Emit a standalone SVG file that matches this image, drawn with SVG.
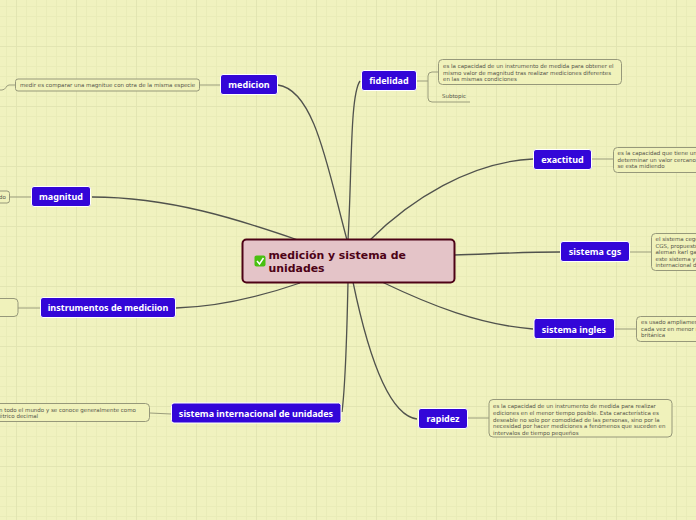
<svg xmlns="http://www.w3.org/2000/svg" width="696" height="520" viewBox="0 0 696 520">
<style>
.n rect{fill:#3306d8;stroke:#fff;stroke-width:1}
.n text{font:700 9px "Noto Sans",sans-serif;fill:#fff;text-anchor:middle}
.c path{fill:none;stroke:#50524d;stroke-width:1.3}
.s path,.s line{fill:none;stroke:#9a9c7c;stroke-width:1}
.t rect{fill:#f0f2bb;stroke:#96987a;stroke-width:1}
.t text{font:5.5px "DejaVu Sans",sans-serif;fill:#55554a}
</style>
<defs>
<pattern id="g" x="6" y="6" width="10" height="10" patternUnits="userSpaceOnUse"><path d="M.5 0V10M0 .5H10" stroke="#e9ecb8" stroke-width="1" fill="none"/></pattern>
<pattern id="h" x="16" y="46" width="60" height="60" patternUnits="userSpaceOnUse"><path d="M.5 0V60M0 .5H60" stroke="#e2e5b2" stroke-width="1" fill="none"/></pattern>
</defs>
<rect width="696" height="520" fill="#f0f2bf"/>
<rect width="696" height="520" fill="url(#g)"/>
<rect width="696" height="520" fill="url(#h)"/>
<g id="connectors" class="c">
<path d="M278 85C315 90 328 170 347 240"/>
<path d="M360 81C350 95 352 170 348 240"/>
<path d="M533 159C470 162 410 200 370 240"/>
<path d="M560 252C520 252 490 254 454 255"/>
<path d="M533 329C480 325 430 305 382 282"/>
<path d="M417 419C385 415 365 340 353 282"/>
<path d="M342 412C346 380 347 330 348 282"/>
<path d="M176 308C220 307 265 295 300 283"/>
<path d="M92 197C170 197 240 220 298 240"/>
</g>
<g class="s">
<line x1="200" y1="85" x2="220" y2="85"/>
<path d="M16 85H9C6 85 6 90 2 90H-2"/>
<line x1="10" y1="197" x2="31" y2="197"/>
<line x1="18" y1="308" x2="40" y2="308"/>
<line x1="150" y1="413" x2="171" y2="414"/>
<path d="M417 81H428M438 72H432Q428 72 428 76V98Q428 102 432 102H470"/>
<line x1="592" y1="159" x2="613" y2="159"/>
<line x1="630" y1="252" x2="651" y2="252"/>
<line x1="615" y1="329" x2="636" y2="329"/>
<line x1="468" y1="418" x2="489" y2="418"/>
</g>
<g id="central">
<rect x="242.500" y="239.500" width="212" height="43" rx="4" fill="#e4c4c8" stroke="#4d0216" stroke-width="2"/>
<rect x="254.500" y="255.500" width="11" height="11" rx="2" fill="#48c010"/>
<path d="M257 261l2.500 3 4-6" fill="none" stroke="#fff" stroke-width="1.500"/>
<text font-family="DejaVu Sans, sans-serif" font-weight="700" font-size="10.900" fill="#4d0216"><tspan x="268.500" y="259">medición y sistema de</tspan><tspan x="268.500" y="272">unidades</tspan></text>
</g>
<g id="medicion" class="n"><rect x="220.500" y="74.500" width="57" height="20" rx="2.500"/><text x="249" y="88">medicion</text></g>
<g id="fidelidad" class="n"><rect x="361.500" y="70.500" width="55" height="20" rx="2.500"/><text x="389" y="84">fidelidad</text></g>
<g id="exactitud" class="n"><rect x="533.500" y="149.500" width="58" height="20" rx="2.500"/><text x="562.500" y="163">exactitud</text></g>
<g id="sistema-cgs" class="n"><rect x="560.500" y="241.500" width="69" height="20" rx="2.500"/><text x="595" y="255">sistema cgs</text></g>
<g id="sistema-ingles" class="n"><rect x="534" y="318.500" width="80.500" height="20" rx="2.500"/><text x="574" y="332.500">sistema ingles</text></g>
<g id="rapidez" class="n"><rect x="418.500" y="408.500" width="49" height="20" rx="2.500"/><text x="443" y="422">rapidez</text></g>
<g id="sistema-internacional" class="n"><rect x="171.500" y="403" width="169.500" height="20" rx="2.500"/><text x="256" y="416.500">sistema internacional de unidades</text></g>
<g id="instrumentos" class="n"><rect x="40.500" y="297.500" width="135" height="20" rx="2.500"/><text x="108" y="311">instrumentos de mediciion</text></g>
<g id="magnitud" class="n"><rect x="31.500" y="186.500" width="59" height="20" rx="2.500"/><text x="61" y="200">magnitud</text></g>
<g id="t-fidelidad" class="t"><rect x="438.500" y="59.500" width="183" height="25" rx="4"/><text><tspan x="443" y="68">es la capacidad de un instrumento de medida para obtener el</tspan><tspan x="443" y="74.500">mismo valor de magnitud tras realizar mediciones diferentes</tspan><tspan x="443" y="81">en las mismas condiciones</tspan></text></g>
<g id="t-subtopic" class="t"><text x="442" y="98">Subtopic</text></g>
<g id="t-exactitud" class="t"><rect x="613.500" y="147.500" width="100" height="25" rx="4"/><text><tspan x="617.500" y="155">es la capacidad que tiene un</tspan><tspan x="617.500" y="161.500">determinar un valor cercano</tspan><tspan x="617.500" y="168">se esta midiendo</tspan></text></g>
<g id="t-cgs" class="t"><rect x="651.500" y="233.500" width="70" height="37" rx="4"/><text><tspan x="655.500" y="241">el sistema cege</tspan><tspan x="655.500" y="247.500">CGS, propuesto</tspan><tspan x="655.500" y="254">aleman karl ga</tspan><tspan x="655.500" y="260.500">este sistema y</tspan><tspan x="655.500" y="267">internacional d</tspan></text></g>
<g id="t-ingles" class="t"><rect x="636.500" y="316.500" width="90" height="25" rx="4"/><text><tspan x="641" y="324">es usado ampliamen</tspan><tspan x="641" y="330.500">cada vez en menor n</tspan><tspan x="641" y="337">británica</tspan></text></g>
<g id="t-rapidez" class="t"><rect x="489" y="399.500" width="183" height="37.500" rx="4"/><text><tspan x="493" y="408">es la capacidad de un instrumento de medida para realizar</tspan><tspan x="493" y="414.500">ediciones en el menor tiempo posible. Esta característica es</tspan><tspan x="493" y="421.500">deseable no solo por comodidad de las personas, sino por la</tspan><tspan x="493" y="428">necesidad por hacer mediciones a fenómenos que suceden en</tspan><tspan x="493" y="434.500">intervalos de tiempo pequeños</tspan></text></g>
<g id="t-internacional" class="t"><rect x="-40" y="403.500" width="189.500" height="18" rx="4"/><text><tspan x="-1" y="412">n todo el mundo y se conoce generalmente como</tspan><tspan x="-1" y="418">étrico decimal</tspan></text></g>
<g id="t-instrumentos" class="t"><rect x="-40" y="298.500" width="58" height="18" rx="4"/></g>
<g id="t-magnitud" class="t"><rect x="-40" y="191" width="49.500" height="12" rx="2.500"/><text x="-1" y="199">do</text></g>
<g id="t-medicion" class="t"><rect x="15.500" y="79" width="184" height="12" rx="2.500"/><text x="20" y="87">medir es comparar una magnitue con otra de la misma especie</text></g>
</svg>
